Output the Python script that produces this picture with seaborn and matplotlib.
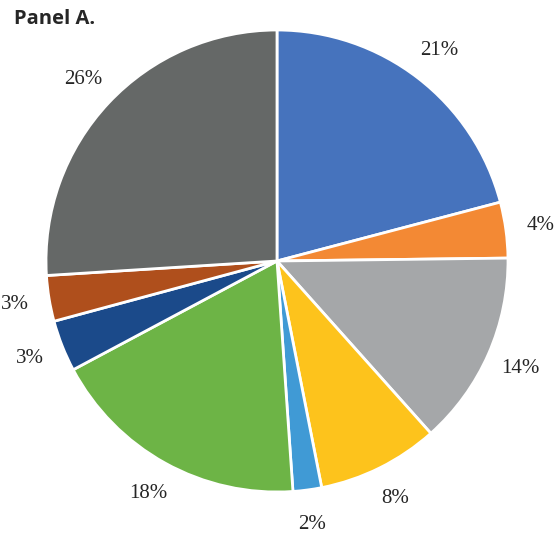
import numpy as np
import seaborn as sns
import matplotlib.pyplot as plt

# shares (clockwise from 12 o'clock)
shares = [20.9, 3.9, 13.6, 8.5, 2.0, 18.3, 3.6, 3.2, 26.0]
labels = ["21%", "4%", "14%", "8%", "2%", "18%", "3%", "3%", "26%"]
colors = ["#4673BD", "#F38934", "#A5A7A9", "#FDC31C", "#409AD5",
          "#6DB446", "#1B4A8A", "#AF4F1C", "#656867"]

sns.set_theme(style="white")
plt.rcParams["font.family"] = ["Liberation Serif", "DejaVu Serif"]

fig = plt.figure(figsize=(5.6, 5.34), dpi=100)
ax = fig.add_axes([46 / 560, 42 / 534, 462 / 560, 462 / 534])

wedges, texts = ax.pie(shares, labels=labels, colors=sns.color_palette(colors),
                       startangle=90, counterclock=False, labeldistance=1.15,
                       wedgeprops=dict(edgecolor="white", linewidth=2),
                       textprops=dict(fontsize=15, ha="center", va="center"))
ax.set_xlim(-1, 1)
ax.set_ylim(-1, 1)
ax.set_aspect("equal")
ax.axis("off")

fig.text(14 / 560, 1 - 19 / 534, "Panel A.", fontsize=14.5, fontweight="bold",
         family=["Open Sans", "DejaVu Sans"], ha="left", va="center")

fig.savefig("out.png", dpi=100)
